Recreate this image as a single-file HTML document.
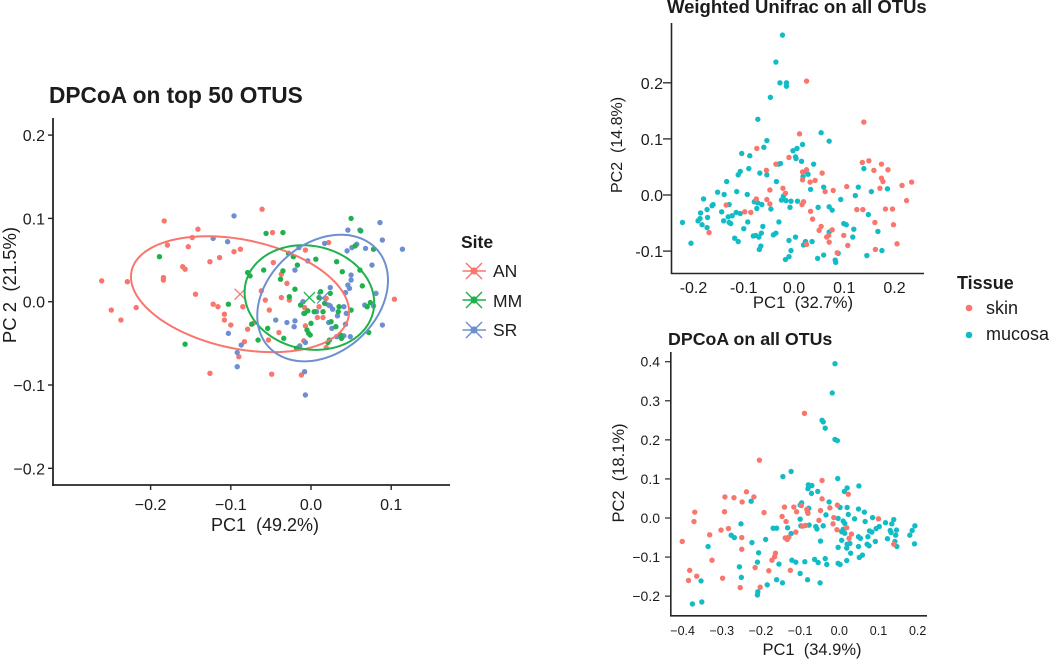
<!DOCTYPE html>
<html lang="en">
<head>
<meta charset="utf-8">
<title>PCoA ordination plots</title>
<style>
html,body{margin:0;padding:0;background:#fff;}
#figure{display:block;width:1050px;height:659px;font-family:"Liberation Sans",Arial,sans-serif;}
text{fill:#1c1c1c;white-space:pre;}
</style>
</head>
<body>
<svg id="figure" xmlns="http://www.w3.org/2000/svg" width="1050" height="659" viewBox="0 0 1050 659">
  <g id="panel-a">
    <text x="49" y="103" font-size="22.7" font-weight="700">DPCoA on top 50 OTUS</text>
    <text x="265" y="531" font-size="18" text-anchor="middle">PC1  (49.2%)</text>
    <text transform="translate(16,285) rotate(-90)" font-size="18.5" text-anchor="middle">PC 2  (21.5%)</text>
  </g>
  <g id="panel-b">
    <text x="667" y="13" font-size="18.5" font-weight="700">Weighted Unifrac on all OTUs</text>
    <text x="803" y="308" font-size="16.7" text-anchor="middle">PC1  (32.7%)</text>
    <text transform="translate(622,145) rotate(-90)" font-size="16" text-anchor="middle">PC2  (14.8%)</text>
  </g>
  <g id="panel-c">
    <text x="668" y="345" font-size="17.8" font-weight="700">DPCoA on all OTUs</text>
    <text x="812" y="655" font-size="16.5" text-anchor="middle">PC1  (34.9%)</text>
    <text transform="translate(624,473) rotate(-90)" font-size="16.5" text-anchor="middle">PC2  (18.1%)</text>
  </g>
  <g>
    <text x="461" y="248" font-size="17.5" font-weight="700">Site</text>
    <g stroke="#F8766D" stroke-width="1.5">
      <path d="M462.5 271H486M466 263L482 279M466 279L482 263" fill="none"/>
      <circle cx="474" cy="271" r="3.6" fill="#F8766D" stroke="none"/>
      <text x="493" y="277" font-size="17.5" stroke="none">AN</text>
    </g>
    <g stroke="#1FB14C" stroke-width="1.5">
      <path d="M462.5 300H486M466 292L482 308M466 308L482 292" fill="none"/>
      <circle cx="474" cy="300" r="3.6" fill="#1FB14C" stroke="none"/>
      <text x="493" y="307" font-size="17.5" stroke="none">MM</text>
    </g>
    <g stroke="#6D8FD2" stroke-width="1.5">
      <path d="M462.5 330H486M466 322L482 338M466 338L482 322" fill="none"/>
      <circle cx="474" cy="330" r="3.6" fill="#6D8FD2" stroke="none"/>
      <text x="493" y="336" font-size="17.5" stroke="none">SR</text>
    </g>
  </g>
  <g>
    <text x="957" y="289" font-size="18" font-weight="700">Tissue</text>
    <g>
      <circle cx="969" cy="308" r="3.3" fill="#F8766D"/>
      <text x="986" y="314" font-size="18">skin</text>
    </g>
    <g>
      <circle cx="969" cy="335" r="3.3" fill="#12BCC6"/>
      <text x="986" y="340" font-size="18">mucosa</text>
    </g>
  </g>
</svg>
<script>
/* ---------- Chart A: DPCoA on top 50 OTUS ---------- */
const topXTicks = [-0.2, -0.1, 0.0, 0.1];
const topYTicks = [-0.2, -0.1, 0.0, 0.1, 0.2];
const topAN = [[-.183,.097],[-.141,.087],[-.148,.077],[-.179,.068],[-.153,.066],[-.088,.063],[-.096,.060],[-.114,.053],[-.126,.048],[-.160,.042],[-.157,.039],[-.261,.025],[-.229,.024],[-.184,.029],[-.184,.026],[-.144,.009],[-.122,-.003],[-.116,-.006],[-.085,-.006],[-.249,-.010],[-.218,-.007],[-.237,-.022],[-.108,-.015],[-.108,-.022],[-.100,-.028],[-.079,-.033],[-.061,.111],[-.048,.083],[.022,.071],[-.007,.062],[-.047,.047],[-.037,.033],[-.030,.022],[-.062,.013],[.104,.003],[-.037,.005],[-.027,.002],[-.057,.002],[-.052,-.010],[-.008,-.007],[.019,.004],[.010,-.006],[.008,-.019],[.015,-.019],[-.072,-.026],[-.007,-.029],[-.040,-.037],[-.053,-.046],[-.083,-.048],[-.009,-.047],[.019,-.055],[-.090,-.066],[-.126,-.086],[-.049,-.087],[-.012,-.088]];
const topMM = [[-.189,.054],[-.079,.035],[-.103,-.003],[-.157,-.051],[.050,.100],[.062,.085],[-.056,.082],[-.035,.083],[.078,.063],[.055,.067],[-.028,.058],[-.022,.054],[.006,.051],[.032,.048],[-.017,.044],[-.076,.031],[-.059,.038],[-.035,.037],[-.038,.027],[.039,.036],[.061,.038],[.064,.019],[-.020,.015],[.012,.012],[.024,.010],[-.027,.006],[.010,.005],[-.013,-.004],[.017,-.002],[.074,-.001],[.070,-.006],[.035,-.006],[-.004,-.011],[-.008,-.014],[.004,-.012],[.015,-.012],[.034,-.012],[.050,-.010],[-.074,-.027],[.025,-.024],[0,-.026],[.031,-.030],[-.054,-.032],[-.005,-.034],[-.003,-.038],[-.001,-.040],[-.034,-.044],[-.066,-.046],[.037,-.040],[.038,-.044],[.023,-.046],[.021,-.049],[.072,-.037],[-.018,-.056]];
const topSR = [[-.096,.103],[-.122,.076],[-.104,.072],[-.103,-.038],[.086,.095],[.046,.086],[.061,.086],[.089,.074],[.017,.070],[.057,.069],[.051,.065],[.045,.061],[.068,.064],[.114,.063],[-.015,.065],[-.004,.049],[.076,.044],[-.020,.038],[.050,.032],[.050,.026],[.046,.020],[.048,.016],[.024,.017],[.043,.011],[.081,.010],[-.010,0],[.022,-.004],[.024,-.005],[.027,-.009],[.041,-.006],[.067,-.004],[.078,-.005],[.044,-.014],[.033,-.017],[.007,-.012],[-.009,-.014],[-.044,-.022],[-.030,-.025],[-.020,-.023],[-.021,-.030],[.022,-.025],[.043,-.027],[.026,-.032],[.089,-.028],[.032,-.042],[.041,-.041],[.049,-.042],[-.087,-.052],[-.092,-.061],[-.014,-.053],[-.007,-.049],[-.092,-.078],[-.008,-.084],[-.007,-.112]];
/* ellipse summaries: centre x, centre y, x half-extent, y half-extent, correlation */
const ellipseAN = [-.0885, .009, .136, .0696, -.30];
const ellipseMM = [-.002, .005, .0808, .0628, -.10];
const ellipseSR = [.0145, .0044, .0815, .076, .28];

/* ---------- Chart B: Weighted Unifrac on all OTUs ---------- */
const unifracXTicks = [-0.2, -0.1, 0.0, 0.1, 0.2];
const unifracYTicks = [-0.1, 0.0, 0.1, 0.2];
const unifracMucosa = [[-.023,.285],[-.036,.237],[-.028,.200],[-.015,.200],[-.015,.194],[-.047,.174],[-.072,.135],[.054,.111],[.070,.096],[-.054,.097],[.017,.090],[-.060,.085],[.006,.083],[-.002,.079],[-.104,.074],[-.088,.070],[.003,.068],[.004,.065],[.015,.060],[.039,.055],[-.031,.055],[-.027,.056],[-.090,.047],[.139,.047],[-.107,.042],[-.111,.036],[-.068,.039],[-.054,.036],[.024,.042],[.028,.037],[.018,.033],[-.134,.024],[-.035,.024],[.059,.014],[.128,.014],[.186,.011],[.033,.010],[-.152,.005],[-.114,.006],[-.139,.001],[.154,.006],[-.093,.001],[.122,-.001],[-.180,-.007],[-.021,-.002],[-.025,-.009],[-.016,-.010],[-.006,-.011],[.007,-.011],[.093,-.008],[-.076,-.012],[-.079,-.012],[-.072,-.014],[-.064,-.017],[-.161,-.017],[-.163,-.019],[-.129,-.017],[-.046,-.025],[-.074,-.024],[-.008,-.022],[.048,-.022],[.070,-.021],[.076,-.027],[-.173,-.026],[-.144,-.030],[-.186,-.032],[-.115,-.031],[-.107,-.033],[-.123,-.037],[-.131,-.039],[-.172,-.040],[.148,-.035],[-.140,-.046],[-.191,-.046],[-.187,-.042],[-.222,-.049],[-.129,-.049],[-.126,-.051],[-.030,-.048],[-.092,-.048],[.099,-.051],[.104,-.053],[-.183,-.053],[-.173,-.058],[-.100,-.060],[-.062,-.056],[.119,-.061],[-.065,-.068],[.167,-.065],[.070,-.066],[-.036,-.068],[-.041,-.071],[-.076,-.072],[-.081,-.073],[-.070,-.075],[.117,-.075],[-.118,-.077],[-.111,-.083],[.003,-.075],[-.010,-.081],[-.205,-.086],[.023,-.083],[.036,-.083],[.019,-.089],[-.066,-.091],[-.069,-.097],[-.006,-.099],[.175,-.099],[.088,-.104],[.145,-.108],[.059,-.107],[-.010,-.110],[.047,-.113],[-.017,-.115],[.082,-.116],[.083,-.120]];
const unifracSkin = [[.025,.203],[.139,.130],[.011,.109],[-.074,.083],[-.010,.067],[-.036,.055],[.136,.058],[.149,.061],[.174,.055],[.159,.044],[.187,.045],[-.055,.044],[.017,.041],[.025,.045],[.056,.039],[.174,.030],[.177,.024],[.017,.027],[.032,.023],[.042,.026],[-.022,.012],[-.048,.009],[.105,.015],[.215,.017],[.234,.023],[.171,.012],[.062,.006],[.078,.008],[-.017,.003],[-.075,-.007],[-.054,-.008],[.019,-.012],[.016,-.017],[-.048,-.016],[-.135,-.018],[.224,-.010],[.125,-.026],[.137,-.026],[.182,-.025],[.196,-.025],[-.098,-.030],[-.086,-.031],[.033,-.029],[.037,-.043],[.161,-.049],[.198,-.053],[.054,-.056],[.050,-.063],[.076,-.062],[-.169,-.067],[.069,-.072],[.065,-.075],[.099,-.072],[.070,-.084],[.107,-.090],[.205,-.087],[.025,-.088],[.162,-.097],[.086,-.103]];

/* ---------- Chart C: DPCoA on all OTUs ---------- */
const allXTicks = [-0.4, -0.3, -0.2, -0.1, 0.0, 0.1, 0.2];
const allYTicks = [-0.2, -0.1, 0.0, 0.1, 0.2, 0.3, 0.4];
const allMucosa = [[-.011,.395],[-.018,.320],[-.044,.250],[-.041,.246],[-.036,.230],[-.011,.201],[-.005,.198],[-.123,.119],[-.144,.106],[-.004,.101],[.050,.082],[.020,.077],[-.079,.085],[-.080,.075],[-.070,.083],[-.055,.068],[-.071,.063],[.013,.068],[-.225,.043],[-.026,.041],[-.096,.039],[-.100,.033],[.020,.027],[.002,.027],[-.078,.025],[.049,.023],[-.081,.016],[.064,.015],[-.034,.008],[.023,.009],[-.100,-.003],[-.003,-.001],[.039,-.002],[.085,.001],[.066,-.009],[.010,-.008],[.014,-.014],[.139,-.004],[.118,-.012],[-.251,-.015],[.102,-.022],[.094,-.027],[.193,-.020],[-.041,-.020],[-.077,-.018],[-.098,-.020],[-.060,-.022],[-.057,-.028],[-.132,-.025],[-.169,-.026],[-.160,-.026],[.134,-.015],[.186,-.032],[.146,-.031],[.130,-.032],[.132,-.037],[.077,-.033],[.083,-.036],[.010,-.029],[.006,-.035],[.014,-.039],[.180,-.044],[.144,-.044],[.073,-.048],[.049,-.048],[.054,-.052],[.123,-.053],[-.276,-.044],[-.268,-.050],[-.188,-.055],[-.123,-.040],[-.048,-.059],[.006,-.057],[.092,-.060],[.142,-.060],[-.223,-.063],[.192,-.066],[.027,-.065],[.020,-.067],[.071,-.067],[.076,-.071],[.147,-.073],[.049,-.073],[-.003,-.075],[.019,-.077],[-.335,-.073],[-.206,-.089],[.029,-.090],[.059,-.095],[.051,-.101],[-.036,-.104],[-.063,-.106],[-.121,-.108],[-.088,-.112],[-.111,-.113],[-.054,-.114],[.019,-.109],[-.003,-.116],[.002,-.119],[-.032,-.119],[-.209,-.113],[-.154,-.118],[-.255,-.125],[-.100,-.142],[-.250,-.152],[-.081,-.158],[-.160,-.158],[-.049,-.166],[-.145,-.166],[-.353,-.161],[-.184,-.171],[-.208,-.189],[-.209,-.197],[-.375,-.220],[-.351,-.215]];
const allSkin = [[-.089,.268],[-.204,.148],[-.044,.096],[-.237,.067],[.023,.061],[-.292,.054],[-.269,.052],[-.218,.054],[-.044,.049],[-.248,.041],[-.140,.028],[-.116,.028],[-.005,.033],[-.024,.026],[-.097,.032],[-.048,.019],[-.293,.016],[-.083,.022],[-.109,.016],[-.369,.015],[-.192,.014],[-.080,.012],[-.146,.004],[-.014,.001],[.100,-.002],[-.371,-.009],[-.136,-.009],[-.052,-.006],[-.016,-.015],[-.086,-.019],[-.094,-.021],[.019,-.025],[-.302,-.031],[-.283,-.027],[-.006,-.030],[-.111,-.036],[.031,-.041],[-.331,-.043],[-.138,-.051],[-.129,-.049],[-.133,-.055],[-.249,-.050],[.025,-.052],[-.401,-.060],[-.249,-.080],[.139,-.067],[-.163,-.090],[-.165,-.099],[-.172,-.108],[-.325,-.108],[-.215,-.127],[-.382,-.134],[-.180,-.135],[-.125,-.134],[-.364,-.149],[-.385,-.160],[-.298,-.154],[-.253,-.178],[-.202,-.177]];

const svgNS = 'http://www.w3.org/2000/svg';
const colorAN = '#F8766D', colorMM = '#1FB14C', colorSR = '#6D8FD2', colorSkin = '#F8766D', colorMucosa = '#12BCC6', axisColor = '#262626';

/* axis functions */
const xA = v => 311 + v * 802;
const yA = v => 301.7 - v * 833;
const xB = v => 794 + v * 502.5;
const yB = v => 195 - v * 561;
const xC = v => 839.3 + v * 391.7;
const yC = v => 518 - v * 390.7;

function make(tag, parent, attrs) {
  const el = document.createElementNS(svgNS, tag);
  for (const k in attrs) el.setAttribute(k, attrs[k]);
  parent.appendChild(el);
  return el;
}
function drawLine(parent, x1, y1, x2, y2, width, name) {
  const el = make('line', parent, {x1: x1, y1: y1, x2: x2, y2: y2, stroke: axisColor, 'stroke-width': width});
  
  
}
function drawLabel(parent, x, y, str, size, anchor, name) {
  const el = make('text', parent, {x: x, y: y, 'font-size': size, 'text-anchor': anchor});
  el.textContent = str;
  
  
}
function drawPoints(parent, pts, sx, sy, r, color, name) {
  pts.forEach(p => {
    const el = make('circle', parent, {cx: sx(p[0]), cy: sy(p[1]), r: r, fill: color});
    
    
  });
}
function drawEllipse(parent, e, sx, sy, color, name) {
  const d = Math.acos(e[4]);
  let path = '';
  for (let i = 0; i <= 120; i++) {
    const t = i / 120 * 2 * Math.PI;
    const px = sx(e[0] + e[2] * Math.cos(t));
    const py = sy(e[1] + e[3] * Math.cos(t - d));
    path += (i ? 'L' : 'M') + px.toFixed(2) + ' ' + py.toFixed(2);
  }
  const el = make('path', parent, {d: path + 'Z', fill: 'none', stroke: color, 'stroke-width': 2});
  
  
  const cx = sx(e[0]), cy = sy(e[1]);
  const mark = make('path', parent, {d: 'M' + (cx - 5.5) + ' ' + (cy - 5.5) + 'L' + (cx + 5.5) + ' ' + (cy + 5.5) + 'M' + (cx - 5.5) + ' ' + (cy + 5.5) + 'L' + (cx + 5.5) + ' ' + (cy - 5.5), fill: 'none', stroke: color, 'stroke-width': 1.3});
  
  
}

/* Panel A */
const gA = document.getElementById('panel-a');
drawPoints(gA, topAN, xA, yA, 2.7, colorAN, 'point-an');
drawPoints(gA, topSR, xA, yA, 2.7, colorSR, 'point-sr');
drawPoints(gA, topMM, xA, yA, 2.7, colorMM, 'point-mm');
drawEllipse(gA, ellipseAN, xA, yA, colorAN, 'ellipse-an');
drawEllipse(gA, ellipseMM, xA, yA, colorMM, 'ellipse-mm');
drawEllipse(gA, ellipseSR, xA, yA, colorSR, 'ellipse-sr');
drawLine(gA, 53, 118, 53, 486, 1.8, 'y-axis-line');
drawLine(gA, 52, 485, 450, 485, 1.8, 'x-axis-line');
topXTicks.forEach(v => {
  drawLine(gA, xA(v), 485, xA(v), 490, 1.4, 'x-tick');
  drawLabel(gA, xA(v), 510, v.toFixed(1).replace('-', '\u2212'), 16, 'middle', 'x-tick-label');
});
topYTicks.forEach(v => {
  drawLine(gA, 48, yA(v), 53, yA(v), 1.4, 'y-tick');
  drawLabel(gA, 45, yA(v) + 6, v.toFixed(1).replace('-', '\u2212'), 16, 'end', 'y-tick-label');
});

/* Panel B */
const gB = document.getElementById('panel-b');
drawPoints(gB, unifracMucosa, xB, yB, 2.7, colorMucosa, 'point-mucosa');
drawPoints(gB, unifracSkin, xB, yB, 2.7, colorSkin, 'point-skin');
drawLine(gB, 671.5, 23, 671.5, 274, 1.6, 'y-axis-line');
drawLine(gB, 671, 273.5, 924, 273.5, 1.6, 'x-axis-line');
unifracXTicks.forEach(v => {
  drawLabel(gB, xB(v), 293, v.toFixed(1), 16, 'middle', 'x-tick-label');
});
unifracYTicks.forEach(v => {
  drawLine(gB, 663, yB(v), 671, yB(v), 1.3, 'y-tick');
  drawLabel(gB, 663, yB(v) + 6, v.toFixed(1), 16, 'end', 'y-tick-label');
});

/* Panel C */
const gC = document.getElementById('panel-c');
drawPoints(gC, allMucosa, xC, yC, 2.7, colorMucosa, 'point-mucosa');
drawPoints(gC, allSkin, xC, yC, 2.7, colorSkin, 'point-skin');
drawLine(gC, 670.8, 352, 670.8, 616.5, 1.6, 'y-axis-line');
drawLine(gC, 670, 615.8, 927, 615.8, 1.6, 'x-axis-line');
allXTicks.forEach(v => {
  drawLabel(gC, xC(v), 635, v.toFixed(1).replace('-', '\u2212'), 12.5, 'middle', 'x-tick-label');
});
allYTicks.forEach(v => {
  drawLine(gC, 665, yC(v), 670.8, yC(v), 1.2, 'y-tick');
  drawLabel(gC, 660, yC(v) + 5, v.toFixed(1).replace('-', '\u2212'), 14, 'end', 'y-tick-label');
});
</script>
</body>
</html>
